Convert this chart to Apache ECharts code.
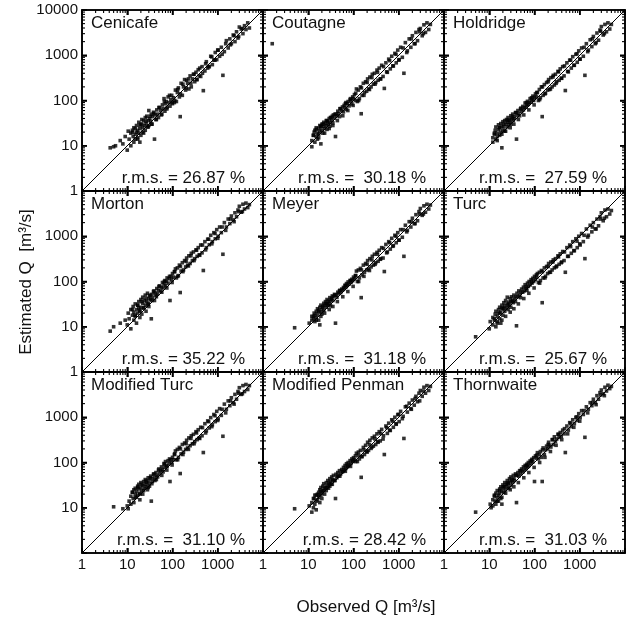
<!DOCTYPE html>
<html><head><meta charset="utf-8">
<script src="https://cdn.jsdelivr.net/npm/echarts@6/dist/echarts.min.js"></script>
<style>html,body{margin:0;padding:0;background:#fff}#c{width:628px;height:618px}</style>
</head><body><div id="c"></div>
<script>
// Observed discharge (shared by all panels), m3/s
const observedQ = [1.6,
  4.2,5,5.5,7,8,9,10,10.5,11,12,
  12,13,13.5,14,14,15,15,16,16,17,
  17,18,18,19,19,20,20,21,22,22,
  23,24,25,25,26,27,28,29,30,30,
  31,33,34,35,36,38,40,41,43,45,
  47,49,52,55,57,60,62,65,68,70,
  73,76,80,84,88,92,96,100,105,110,
  116,122,128,135,142,148,155,165,175,185,
  195,205,215,230,245,260,275,290,310,330,
  350,370,390,420,450,480,520,560,600,650,
  700,760,820,880,950,1020,1100,1200,1300,1400,
  1550,1700,1850,2000,2200,2400,2600,2800,3000,3300,
  3600,3900,4200,4600,5000,
  13,15,17,19,21,23,26,29,32,35,
  39,44,50,58,66,75,86,98,112,130,
  150,170,200,225,255,300,340,400,460,540,
  630,740,870,1000,1250,1500,1900,2300,2900,3500];

// Estimated discharge per method (null = not plotted)
const estCenicafe = [null,
  9,9.5,10,13,11,16,8,21,14,19,
  10,22,16,12,25,18,14,20,28,15,
  22,33,19,24,12,30,17,38,25,20,
  36,28,42,22,31,45,26,36,60,28,
  40,35,50,30,44,55,14,48,38,62,
  50,42,70,60,48,80,66,110,58,85,
  95,70,120,90,75,105,130,85,115,90,
  170,95,150,190,120,44,240,130,200,290,
  170,280,240,180,350,200,300,380,260,420,
  290,480,350,340,560,165,450,720,520,560,
  950,620,780,1150,800,1300,950,1500,360,1200,
  2100,1450,2300,1800,2800,2000,3300,2400,4200,3800,
  3000,4500,3700,5200,4000,
  20,24,14,28,30,19,35,26,45,30,
  52,38,70,50,95,65,130,90,100,175,
  140,230,190,300,240,380,290,520,400,650,
  560,920,780,1300,1050,1800,1700,2700,2600,3900];
const estCoutagne = [1800,
  null,null,null,null,null,null,null,null,null,9.5,
  13,17,20,12,22,16,25,19,14,24,
  18,28,21,11,26,22,30,19,27,33,
  24,31,28,36,23,34,30,40,33,27,
  42,37,45,32,48,41,16,50,46,58,
  52,44,66,60,72,56,78,70,90,64,
  85,95,76,105,98,84,120,110,135,100,
  180,95,170,110,200,51,130,240,150,260,
  160,300,180,330,200,380,230,400,250,470,
  280,520,300,600,340,185,680,420,820,500,
  950,580,1100,680,1300,800,1500,900,400,1900,
  1250,2300,1500,2700,1800,3200,2100,3700,3900,2700,
  4700,3200,5200,3700,4800,
  17,23,15,27,30,19,36,24,42,28,
  50,36,66,46,85,60,110,78,145,100,
  190,130,250,175,320,230,420,300,560,430,
  760,580,1050,780,1450,1150,2300,1800,3300,3000];
const estHoldridge = [null,
  null,null,null,null,null,null,null,null,null,15,
  12,18,22,14,26,19,13,23,29,17,
  25,31,20,9,27,34,22,26,36,21,
  30,38,26,33,42,29,37,33,46,30,
  39,50,36,44,40,54,14,47,60,52,
  46,65,58,74,62,70,88,72,80,96,
  82,90,110,92,104,125,100,118,140,120,
  150,100,175,115,200,44,130,225,145,250,
  170,290,175,320,200,360,220,380,260,440,
  280,500,310,560,350,166,680,430,780,520,
  930,600,1050,700,1250,820,1450,950,360,1800,
  1300,2200,1550,2600,1800,3100,2150,3600,4300,2800,
  4800,3300,5200,3800,4800,
  19,16,25,18,30,21,36,25,42,30,
  54,38,68,48,90,62,115,80,150,105,
  200,140,260,180,330,240,430,310,580,440,
  780,600,1080,820,1500,1200,2300,1900,3400,3000];
const estMorton = [null,
  8,10,null,12,null,14,11,20,15,24,
  9,18,28,14,21,32,17,24,12,30,
  20,26,36,16,23,40,27,19,33,45,
  26,38,30,50,22,36,55,33,42,28,
  48,40,15,52,44,60,38,56,50,70,
  54,64,80,62,75,95,72,88,105,80,
  100,120,92,115,38,130,110,150,125,165,
  190,120,200,135,230,57,170,260,180,290,
  210,330,230,370,250,420,290,450,320,500,
  360,560,390,640,430,175,760,560,860,650,
  1050,760,1200,880,1400,1000,1600,1200,400,2000,
  1600,2400,1900,2800,2300,3300,2700,3800,4600,3400,
  5100,4000,5400,4300,5000,
  24,18,30,22,36,26,42,31,50,38,
  62,46,78,58,100,72,130,95,165,130,
  215,165,280,220,370,290,490,380,640,500,
  860,680,1150,900,1600,1350,2400,2100,3500,3500];
const estMeyer = [null,
  null,9.5,null,null,null,null,null,12,null,14,
  17,15,20,13,18,22,16,25,19,14,
  23,27,11,21,30,24,19,28,33,23,
  30,36,27,33,40,30,37,32,44,36,
  29,42,48,38,46,52,12,50,45,58,
  54,62,57,68,64,74,70,82,76,90,
  82,98,88,105,96,112,104,125,115,135,
  170,100,180,120,195,44,140,230,160,250,
  180,290,190,320,210,360,230,400,260,440,
  280,490,310,560,330,166,660,450,760,520,
  900,620,1050,720,1200,820,1400,950,360,1750,
  1350,2100,1600,2500,1900,3000,2200,3500,4100,2900,
  4700,3400,5100,4000,4900,
  17,14,22,17,27,20,32,24,40,28,
  50,36,64,46,82,60,105,78,135,100,
  180,130,240,175,300,240,400,320,540,430,
  720,600,1000,820,1400,1250,2100,1900,3100,3100];
const estTurc = [null,
  null,6,null,null,null,null,9,13,null,11,
  16,14,19,10,22,17,13,24,20,15,
  27,21,12,25,30,18,26,34,22,29,
  38,26,32,45,24,35,30,42,36,27,
  46,38,34,50,42,36,10.5,55,46,62,
  50,44,68,58,75,62,85,70,64,92,
  78,100,84,110,92,118,100,130,110,140,
  150,95,160,105,175,34,120,200,130,215,
  150,250,160,270,180,300,200,320,220,370,
  240,410,260,460,290,160,560,360,640,420,
  760,480,880,560,1000,640,1150,760,320,1450,
  1050,1750,1250,2000,1450,2400,1700,2700,3300,2200,
  3800,2700,4000,3100,3700,
  15,12,20,14,25,17,30,21,36,25,
  46,32,58,42,76,55,98,72,125,92,
  165,120,215,160,270,210,350,270,450,360,
  590,480,780,680,1050,960,1600,1450,2400,2500];
const estModTurc = [null,
  null,10.5,null,null,9.5,null,11,9.5,14,18,
  12,22,16,25,13,20,27,17,23,30,
  19,26,33,21,15,28,36,24,31,20,
  38,27,33,42,29,36,25,46,34,40,
  30,50,14,44,38,55,46,40,60,52,
  48,68,58,66,80,70,62,95,78,105,
  86,82,110,96,38,115,100,130,115,150,
  180,115,195,130,215,57,155,250,170,270,
  195,310,210,350,235,390,260,420,290,480,
  320,530,350,600,390,166,720,500,830,580,
  980,680,1150,800,1350,920,1550,1100,380,1950,
  1500,2300,1800,2700,2100,3200,2500,3700,4500,3200,
  5000,3700,5300,4100,5000,
  22,17,28,20,33,24,39,28,46,34,
  56,42,72,52,92,68,120,88,155,115,
  200,150,260,195,340,260,450,340,590,450,
  800,620,1080,850,1500,1250,2300,1950,3400,3300];
const estModPenman = [null,
  null,9.5,null,null,null,null,null,11,null,8,
  13,10,16,12,19,14,9,20,15,22,
  17,13,25,19,28,21,16,30,24,34,
  20,28,36,24,31,40,27,35,44,30,
  38,48,33,42,52,40,16,55,46,60,
  50,66,56,70,62,78,68,86,74,94,
  80,100,88,110,96,120,105,128,115,140,
  160,105,170,120,185,47,135,215,150,240,
  175,280,185,310,205,350,230,380,250,430,
  280,480,300,540,330,150,640,440,740,510,
  880,600,1000,700,1150,800,1350,930,340,1700,
  1300,2050,1550,2400,1850,2900,2200,3400,3900,2900,
  4600,3400,5000,3900,4800,
  16,19,19,23,24,27,28,33,33,40,
  40,50,50,64,64,84,82,110,105,145,
  135,190,170,250,220,330,290,440,390,590,
  520,820,720,1150,1050,1750,1500,2600,2300,3800];
const estThornwaite = [null,
  null,8,null,null,null,null,null,12,10,15,
  11,18,14,21,12,17,24,19,14,26,
  21,16,29,23,12,27,32,22,30,36,
  25,33,29,40,35,27,44,37,31,48,
  40,36,52,44,40,56,13,52,60,50,
  66,56,72,62,80,68,86,74,92,80,
  100,86,108,96,118,104,128,38,140,125,
  165,120,150,175,130,38,210,150,190,230,
  200,280,240,220,320,250,370,290,330,420,
  360,460,380,520,430,166,640,520,760,620,
  880,720,1000,850,1200,980,1400,1150,360,1700,
  1500,2100,1800,2500,2100,3000,2500,3500,4000,3300,
  4600,3800,5100,4300,4800,
  19,14,24,17,29,21,35,25,42,29,
  52,36,66,46,86,60,112,78,145,100,
  190,130,250,175,320,240,420,320,560,430,
  740,600,1020,820,1400,1250,2100,1900,3100,3000];

const methodNames = ['Cenicafe','Coutagne','Holdridge','Morton','Meyer','Turc','Modified Turc','Modified Penman','Thornwaite'];
const rmsLabels = ['r.m.s. = 26.87 %','r.m.s. =  30.18 %','r.m.s. =  27.59 %','r.m.s. = 35.22 %','r.m.s. =  31.18 %','r.m.s. =  25.67 %','r.m.s. =  31.10 %','r.m.s. = 28.42 %','r.m.s. =  31.03 %'];
const estimates = [estCenicafe, estCoutagne, estHoldridge, estMorton, estMeyer, estTurc, estModTurc, estModPenman, estThornwaite];
const axisRange = [1, 10000];
const tickLabels = ['1','10','100','1000','10000'];
const decades = [1, 10, 100, 1000];
const tickMultipliers = [1, 2, 3, 4, 5, 6, 7, 8, 9];
const xAxisName = 'Observed Q [m³/s]';
const yAxisName = 'Estimated Q  [m³/s]';

const FONT = '"Liberation Sans", Arial, Helvetica, sans-serif';
const L0 = 82, T0 = 10, W = 181, H = 181;
const MAJOR_LEN = 5, MINOR_LEN = 3;

const chart = echarts.init(document.getElementById('c'));
const grids = [], xAxes = [], yAxes = [], series = [], graphics = [];

// tick values on the log axes (1..9 x each decade, plus the top)
const tickValues = [];
decades.forEach(d => tickMultipliers.forEach(m => tickValues.push(d * m)));
tickValues.push(axisRange[1]);

function labelFor(v) {
  const e = Math.round(Math.log10(v));
  return tickLabels[e] !== undefined ? tickLabels[e] : '';
}

function makeAxis(gridIndex, position, showLabel, hideVals) {
  return {
    type: 'log', logBase: 10, gridIndex, position,
    min: axisRange[0], max: axisRange[1],
    axisLine: {show: true, onZero: false, lineStyle: {color: '#000', width: 1.6}},
    axisTick: {show: true, inside: true, length: MAJOR_LEN, lineStyle: {color: '#000', width: 1.5}},
    minorTick: {show: false},
    splitLine: {show: false}, minorSplitLine: {show: false},
    axisLabel: {
      show: showLabel, color: '#111', fontSize: 15, fontFamily: FONT, margin: 4,
      formatter: v => { const s = labelFor(v); return hideVals.indexOf(s) >= 0 ? '' : s; }
    }
  };
}

function renderTick(params, api) {
  const v = api.value(0);
  const lg = Math.log10(v);
  const major = Math.abs(lg - Math.round(lg)) < 1e-9;
  const len = major ? MAJOR_LEN : MINOR_LEN;
  const lo = api.coord([axisRange[0], axisRange[0]]);
  const hi = api.coord([axisRange[1], axisRange[1]]);
  const x0 = lo[0], y1 = lo[1], x1 = hi[0], y0 = hi[1];
  const px = api.coord([v, axisRange[0]])[0];
  const py = api.coord([axisRange[0], v])[1];
  const st = {stroke: '#000', lineWidth: major ? 1.5 : 1.1, fill: null};
  return {
    type: 'group',
    children: [
      {type: 'line', shape: {x1: px, y1: y1, x2: px, y2: y1 - len}, style: st},
      {type: 'line', shape: {x1: px, y1: y0, x2: px, y2: y0 + len}, style: st},
      {type: 'line', shape: {x1: x0, y1: py, x2: x0 + len, y2: py}, style: st},
      {type: 'line', shape: {x1: x1, y1: py, x2: x1 - len, y2: py}, style: st}
    ]
  };
}

for (let i = 0; i < 9; i++) {
  const r = Math.floor(i / 3), c = i % 3;
  const left = L0 + c * W, top = T0 + r * H;
  grids.push({left, top, width: W, height: H, show: true, borderColor: '#000', borderWidth: 1.6});
  xAxes.push(makeAxis(i, 'bottom', r === 2, ['10000']));
  xAxes.push(makeAxis(i, 'top', false, []));
  const yHide = r === 0 ? [] : (r === 1 ? ['10000'] : ['1', '10000']);
  yAxes.push(makeAxis(i, 'left', c === 0, yHide));
  yAxes.push(makeAxis(i, 'right', false, []));

  series.push({
    type: 'custom', xAxisIndex: 2 * i, yAxisIndex: 2 * i, silent: true, z: 5, clip: false,
    renderItem: renderTick, encode: {x: 0, y: 1},
    data: tickValues.map(v => [v, v])
  });
  series.push({
    type: 'line', xAxisIndex: 2 * i, yAxisIndex: 2 * i, silent: true, symbol: 'none', z: 2,
    lineStyle: {color: '#000', width: 1},
    data: [[axisRange[0], axisRange[0]], [axisRange[1], axisRange[1]]]
  });
  const est = estimates[i];
  const pts = [];
  for (let k = 0; k < observedQ.length; k++) {
    if (est[k] !== null && est[k] !== undefined) pts.push([observedQ[k], est[k]]);
  }
  series.push({
    type: 'scatter', xAxisIndex: 2 * i, yAxisIndex: 2 * i, symbol: 'rect', symbolSize: 3.6, z: 3,
    itemStyle: {color: '#000'}, silent: true, data: pts
  });

  graphics.push({type: 'text', left: left + 9, top: top + 5, z: 10,
    style: {text: methodNames[i], font: '17px ' + FONT, fill: '#111'}});
  graphics.push({type: 'text', x: left + W - 18, y: top + H - 4, z: 10,
    style: {text: rmsLabels[i], font: '17px ' + FONT, fill: '#111', textAlign: 'right', textVerticalAlign: 'bottom'}});
}

graphics.push({type: 'text', x: 366, y: 607, z: 10,
  style: {text: xAxisName, font: '17px ' + FONT, fill: '#111', textAlign: 'center', textVerticalAlign: 'middle'}});
graphics.push({type: 'text', x: 26, y: 282, rotation: Math.PI / 2, z: 10,
  style: {text: yAxisName, font: '17px ' + FONT, fill: '#111', textAlign: 'center', textVerticalAlign: 'middle'}});

chart.setOption({
  animation: false,
  grid: grids, xAxis: xAxes, yAxis: yAxes, series,
  graphic: graphics
});
</script></body></html>
